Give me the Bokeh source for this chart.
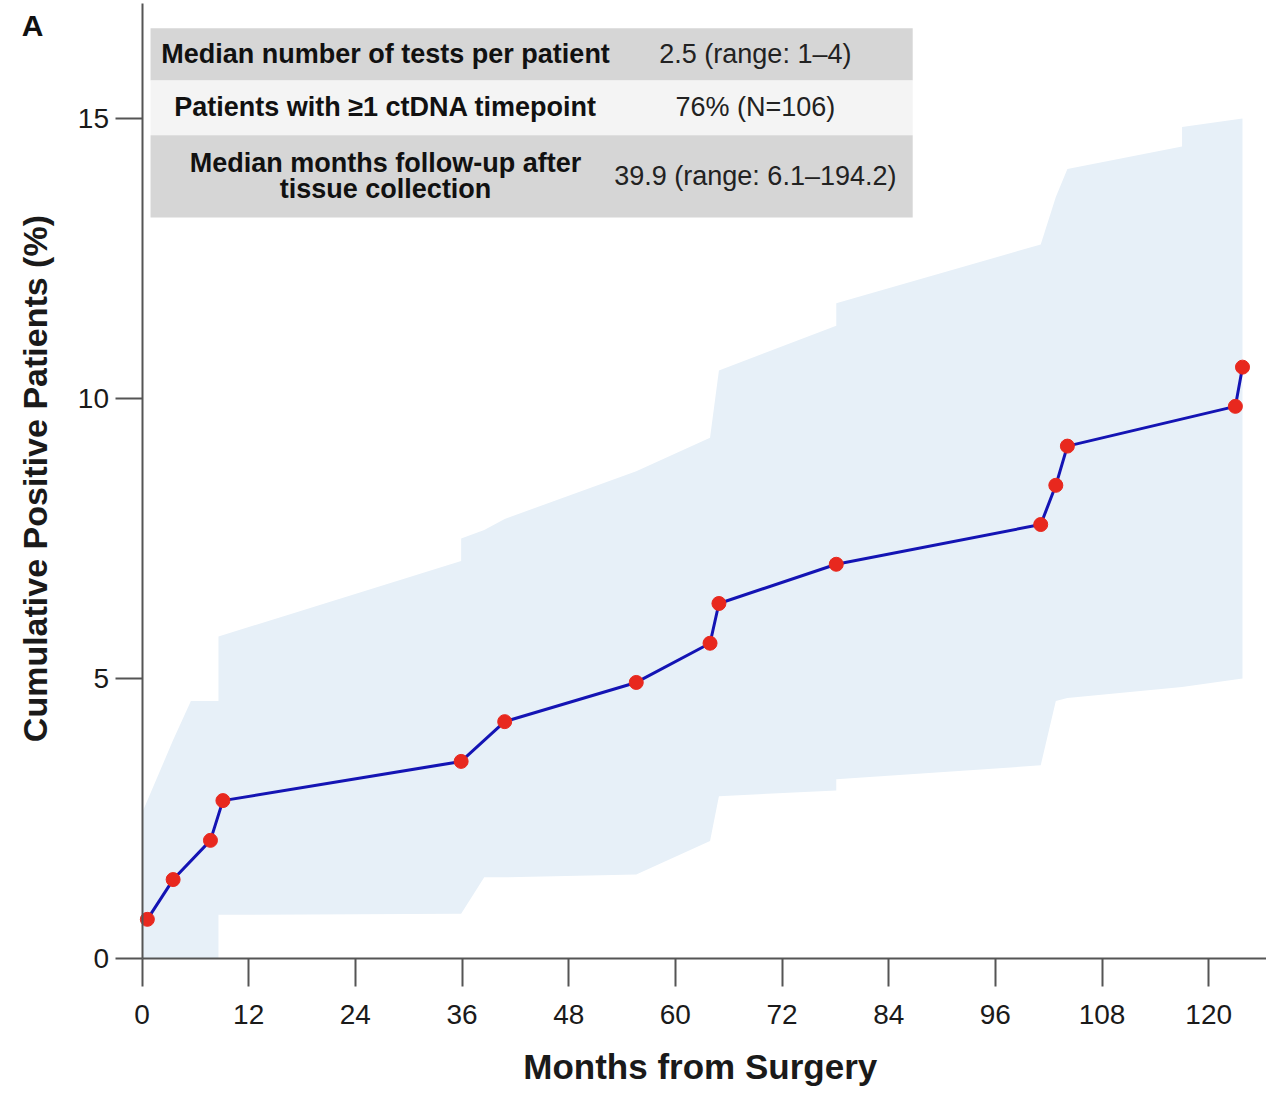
import math
from bokeh.plotting import figure
from bokeh.models import Range1d, FixedTicker, Label
from bokeh.core.properties import value
from bokeh.embed import file_html
from bokeh.resources import INLINE

# ---- data ----
months = [0.6, 3.5, 7.7, 9.1, 35.9, 40.8, 55.6, 63.9, 64.9, 78.1, 101.1, 102.8, 104.1, 123.0, 123.8]
cum_pct = [0.70, 1.41, 2.11, 2.82, 3.52, 4.23, 4.93, 5.63, 6.34, 7.04, 7.75, 8.45, 9.15, 9.86, 10.56]

band_months = [0.0, 3.5, 5.5, 8.6, 8.6, 35.9, 35.9, 38.5, 40.8, 55.6, 63.9, 64.9, 78.1, 78.1,
               101.1, 102.8, 104.1, 117.0, 117.0, 123.8]
band_lower = [0.0, 0.0, 0.0, 0.0, 0.78, 0.80, 0.80, 1.45, 1.45, 1.50, 2.10, 2.90, 3.00, 3.20,
              3.45, 4.60, 4.65, 4.85, 4.85, 5.00]
band_upper = [2.6, 3.9, 4.6, 4.6, 5.75, 7.10, 7.50, 7.65, 7.85, 8.70, 9.30, 10.50, 11.30, 11.70,
              12.75, 13.60, 14.10, 14.50, 14.85, 15.00]

x_ticks = [0, 12, 24, 36, 48, 60, 72, 84, 96, 108, 120]
y_ticks = [0, 5, 10, 15]

table_labels = ["Median number of tests per patient",
                "Patients with \u22651 ctDNA timepoint",
                "Median months follow-up after\ntissue collection"]
table_values = ["2.5 (range: 1\u20134)", "76% (N=106)", "39.9 (range: 6.1\u2013194.2)"]
panel_letter = "A"
x_title = "Months from Surgery"
y_title = "Cumulative Positive Patients (%)"

FONT = "Liberation Sans"

X_MIN, X_MAX = -15.92, 126.5
Y_MIN, Y_MAX = -2.41, 17.107
p = figure(width=1266, height=1093, output_backend="svg", toolbar_location=None,
           x_range=Range1d(X_MIN, X_MAX), y_range=Range1d(Y_MIN, Y_MAX),
           min_border_left=0, min_border_right=0, min_border_top=0, min_border_bottom=0)
p.grid.visible = False
p.outline_line_color = None
p.background_fill_color = "white"

# confidence band
p.varea(x=band_months, y1=band_lower, y2=band_upper, fill_color="#e7f0f8", fill_alpha=1.0)

# table
row_tops = [16.61, 15.68, 14.70]
row_bottoms = [15.68, 14.70, 13.23]
row_colors = ["#d6d6d6", "#f4f4f4", "#d6d6d6"]
p.quad(left=[0.96] * 3, right=[86.7] * 3, top=row_tops, bottom=row_bottoms,
       fill_color=row_colors, line_color=None)

lx, ly, ltxt = [], [], []
vx, vy = [], []
for i, lab in enumerate(table_labels):
    mid = (row_tops[i] + row_bottoms[i]) / 2 + 0.01
    lines = lab.split("\n")
    n = len(lines)
    for j, ln in enumerate(lines):
        lx.append(27.4)
        ly.append(mid + (n - 1) * 0.232 - j * 0.464)
        ltxt.append(ln)
    vx.append(69.0)
    vy.append(mid)
p.text(x=lx, y=ly, text=ltxt, text_align="center", text_baseline="middle",
       text_font=value(FONT), text_font_size="27px", text_font_style="bold", text_color="#111111")
p.text(x=vx, y=vy, text=table_values, text_align="center", text_baseline="middle",
       text_font=value(FONT), text_font_size="27px", text_color="#222222")

# series
p.line(months, cum_pct, line_color="#1414b4", line_width=3)
p.scatter(months, cum_pct, size=14, fill_color="#e8281e", line_color="#e8281e")

# axes (drawn at x=0 and y=0 inside the frame)
for ax in (p.xaxis[0], p.yaxis[0]):
    ax.axis_line_color = "#555555"
    ax.axis_line_width = 2
    ax.major_tick_line_color = "#555555"
    ax.major_tick_line_width = 2
    ax.minor_tick_line_color = None
    ax.major_tick_in = 0
    ax.major_label_text_font = FONT
    ax.major_label_text_font_size = "28px"
    ax.major_label_text_color = "#1a1a1a"

p.yaxis.fixed_location = 0
p.xaxis.fixed_location = 0
p.xaxis.bounds = (0, X_MAX)
p.yaxis.bounds = (0, 17.05)
p.xaxis.ticker = FixedTicker(ticks=x_ticks)
p.yaxis.ticker = FixedTicker(ticks=y_ticks)
p.xaxis.major_tick_out = 28
p.xaxis.major_label_standoff = 18
p.yaxis.major_tick_out = 27
p.yaxis.major_label_standoff = 6

# axis titles
p.add_layout(Label(x=62.8, y=-1.93, text=x_title, text_align="center", text_baseline="middle",
                   text_font=FONT, text_font_size="35px", text_font_style="bold",
                   text_color="#1a1a1a"))
p.add_layout(Label(x=-12.0, y=8.57, text=y_title, angle=math.pi / 2,
                   text_align="center", text_baseline="middle",
                   text_font=FONT, text_font_size="34px", text_font_style="bold",
                   text_color="#1a1a1a"))

p.add_layout(Label(x=-12.3, y=16.66, text=panel_letter, text_align="center", text_baseline="middle",
                   text_font=FONT, text_font_size="30px", text_font_style="bold",
                   text_color="#111111"))

open("out.html", "w").write(file_html(p, INLINE))
